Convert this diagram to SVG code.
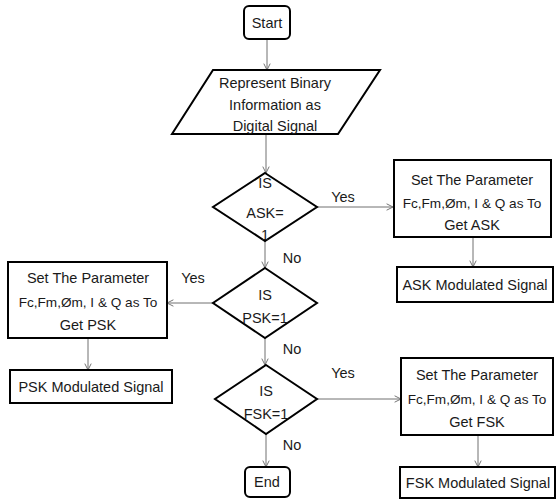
<svg xmlns="http://www.w3.org/2000/svg" width="557" height="500" viewBox="0 0 557 500">
<defs>
<style>
.shape{fill:#fff;stroke:#000;stroke-width:2}
.conn{fill:none;stroke:#707070;stroke-width:1}
text{font-family:"Liberation Sans",Arial,sans-serif;font-size:14.5px;fill:#1a1a1a;text-anchor:middle}
.fc{font-size:13.6px}
</style>
<marker id="arr" viewBox="0 0 10 10" refX="9" refY="5" markerWidth="8" markerHeight="8" orient="auto" markerUnits="userSpaceOnUse">
<path d="M1,1 L9,5 L1,9" fill="none" stroke="#707070" stroke-width="1.2"/>
</marker>
</defs>
<rect width="557" height="500" fill="#fff"/>
<g id="connectors">
<line class="conn" x1="267" y1="39" x2="267" y2="70" marker-end="url(#arr)"/>
<line class="conn" x1="266" y1="134" x2="266" y2="173" marker-end="url(#arr)"/>
<line class="conn" x1="317" y1="207" x2="393" y2="207" marker-end="url(#arr)"/>
<line class="conn" x1="473" y1="237" x2="473" y2="267" marker-end="url(#arr)"/>
<line class="conn" x1="265" y1="241" x2="265" y2="268" marker-end="url(#arr)"/>
<line class="conn" x1="213" y1="303" x2="167" y2="303" marker-end="url(#arr)"/>
<line class="conn" x1="88" y1="338" x2="88" y2="370" marker-end="url(#arr)"/>
<line class="conn" x1="265" y1="338" x2="265" y2="365" marker-end="url(#arr)"/>
<line class="conn" x1="317" y1="399" x2="401" y2="399" marker-end="url(#arr)"/>
<line class="conn" x1="478" y1="435" x2="478" y2="467" marker-end="url(#arr)"/>
<line class="conn" x1="266" y1="434" x2="266" y2="467" marker-end="url(#arr)"/>
<text x="343" y="202">Yes</text>
<text x="193" y="283">Yes</text>
<text x="343" y="378">Yes</text>
<text x="292" y="263">No</text>
<text x="292" y="354">No</text>
<text x="292" y="450">No</text>
</g>
<g id="start">
<rect class="shape" x="244" y="6" width="46" height="33" rx="5"/>
<text x="267" y="28">Start</text>
</g>
<g id="input">
<polygon class="shape" points="213,70 380,70 338,134 172,134"/>
<text x="275" y="88">Represent Binary</text>
<text x="275" y="110">Information as</text>
<text x="275" y="131">Digital Signal</text>
</g>
<g id="isAsk">
<polygon class="shape" points="265,173 317,207 265,241 213,207"/>
<text x="265" y="188">IS</text>
<text x="265" y="218">ASK=</text>
<text x="265" y="240">1</text>
</g>
<g id="setAsk">
<rect class="shape" x="394" y="160" width="157" height="77"/>
<text x="472" y="185">Set The Parameter</text>
<text class="fc" x="472" y="208">Fc,Fm,Øm, I &amp; Q as To</text>
<text x="472" y="230">Get ASK</text>
</g>
<g id="askOut">
<rect class="shape" x="397" y="267" width="156" height="35"/>
<text x="475" y="290">ASK Modulated Signal</text>
</g>
<g id="isPsk">
<polygon class="shape" points="265,268 317,303 265,338 213,303"/>
<text x="265" y="300">IS</text>
<text x="265" y="323">PSK=1</text>
</g>
<g id="setPsk">
<rect class="shape" x="8" y="262" width="159" height="76"/>
<text x="88" y="283">Set The Parameter</text>
<text class="fc" x="88" y="307">Fc,Fm,Øm, I &amp; Q as To</text>
<text x="88" y="330">Get PSK</text>
</g>
<g id="pskOut">
<rect class="shape" x="10" y="370" width="162" height="33"/>
<text x="91" y="392">PSK Modulated Signal</text>
</g>
<g id="isFsk">
<polygon class="shape" points="266,365 317,399 266,434 215,399"/>
<text x="266" y="396">IS</text>
<text x="266" y="419">FSK=1</text>
</g>
<g id="setFsk">
<rect class="shape" x="401" y="358" width="152" height="77"/>
<text x="477" y="380">Set The Parameter</text>
<text class="fc" x="477" y="404">Fc,Fm,Øm, I &amp; Q as To</text>
<text x="477" y="427">Get FSK</text>
</g>
<g id="fskOut">
<rect class="shape" x="400" y="467" width="155" height="31"/>
<text x="478" y="488">FSK Modulated Signal</text>
</g>
<g id="end">
<rect class="shape" x="245" y="467" width="45" height="30" rx="5"/>
<text x="267" y="487">End</text>
</g>
</svg>
